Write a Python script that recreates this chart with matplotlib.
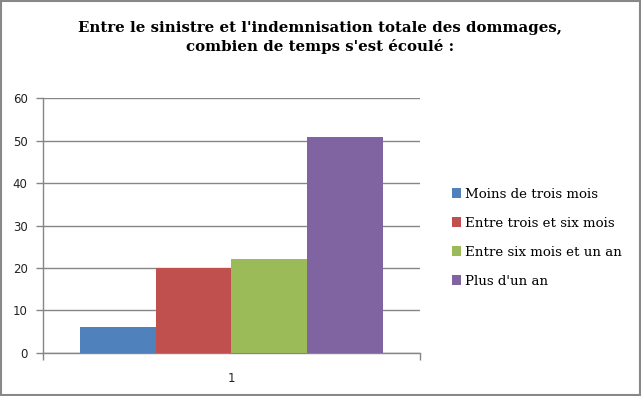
import matplotlib
matplotlib.use('Agg')
import matplotlib.pyplot as plt
from matplotlib.patches import Rectangle
from matplotlib.ticker import FixedLocator

title = "Entre le sinistre et l'indemnisation totale des dommages,\ncombien de temps s'est écoulé :"
series_names = ['Moins de trois mois', 'Entre trois et six mois',
                'Entre six mois et un an', "Plus d'un an"]
values = [6, 20, 22, 51]
colors = ['#4F81BD', '#C0504D', '#9BBB59', '#8064A2']
category_label = '1'

fig = plt.figure(figsize=(6.41, 3.96), dpi=100)
ax = fig.add_axes([0.0671, 0.1093, 0.588, 0.642])

bar_w = 0.201
offsets = [(i - 1.5) * bar_w for i in range(len(values))]
for off, v, c, name in zip(offsets, values, colors, series_names):
    ax.bar(off, v, width=bar_w, color=c, label=name, zorder=3)

ax.set_xlim(-0.5, 0.5)
ax.set_ylim(0, 60)
ax.set_yticks(range(0, 61, 10))
ax.yaxis.grid(True, color='#868686', linewidth=1.0, zorder=0)
ax.set_xticks([0])
ax.set_xticklabels([category_label])
ax.xaxis.set_minor_locator(FixedLocator([-0.5, 0.5]))
ax.tick_params(axis='x', which='major', length=0, pad=14)
ax.tick_params(axis='x', which='minor', length=5, color='#868686', width=1)
ax.tick_params(axis='y', length=5, color='#868686', width=1, pad=6)
for lab in ax.get_xticklabels() + ax.get_yticklabels():
    lab.set_fontfamily('DejaVu Sans')
    lab.set_fontsize(8.5)
    lab.set_color('#222222')

for side in ['top', 'right']:
    ax.spines[side].set_visible(False)
for side in ['left', 'bottom']:
    ax.spines[side].set_color('#868686')
    ax.spines[side].set_linewidth(1)

fig.text(0.5, 0.906, title, ha='center', va='center', fontsize=10.8,
         fontweight='bold', family='DejaVu Serif', linespacing=1.35)

leg = fig.legend(loc='upper left', bbox_to_anchor=(0.686, 0.556),
                 frameon=False, prop={'family': 'DejaVu Serif', 'size': 9.6},
                 handlelength=0.7, handleheight=0.7, handletextpad=0.3,
                 labelspacing=1.2)

fig.patches.append(Rectangle((0.002, 0.003), 0.996, 0.994, transform=fig.transFigure,
                             fill=False, edgecolor='#888888', linewidth=1.5))

fig.savefig('out.png', dpi=100)
